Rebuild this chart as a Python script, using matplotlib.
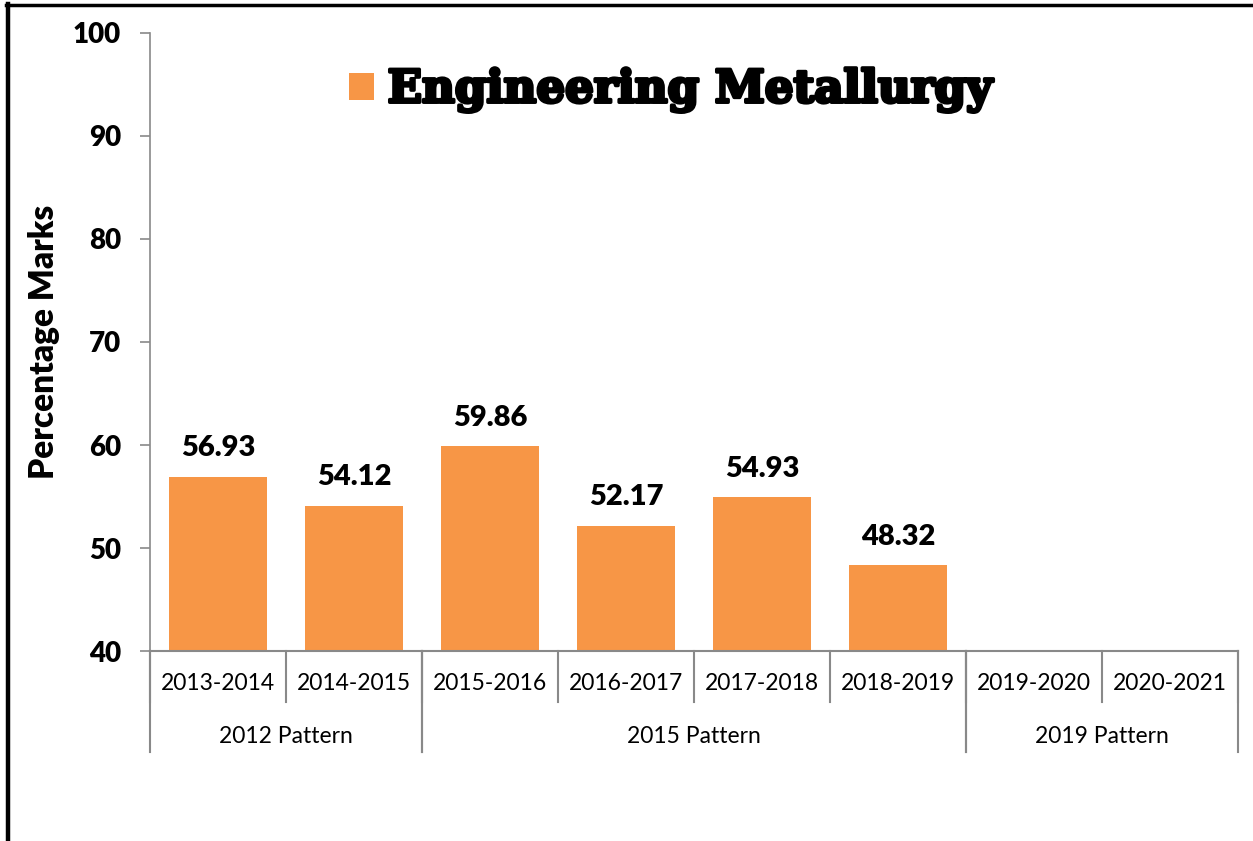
import matplotlib
matplotlib.use("Agg")
import matplotlib.pyplot as plt
import matplotlib.patheffects as pe
from matplotlib.lines import Line2D
import numpy as np

# Dữ liệu
years = ["2013-2014", "2014-2015", "2015-2016", "2016-2017",
         "2017-2018", "2018-2019", "2019-2020", "2020-2021"]
marks = [56.93, 54.12, 59.86, 52.17, 54.93, 48.32, np.nan, np.nan]
groups = ["2012 Pattern", "2015 Pattern", "2019 Pattern"]
group_sizes = [2, 4, 2]
series_name = "Engineering Metallurgy"

bar_color = "#F79646"
axis_color = "#898989"
font = "Lato"

fig = plt.figure(figsize=(12.53, 8.41), dpi=100)
ax = fig.add_axes([0.1197, 0.2259, 0.8683, 0.7349])

x = np.arange(len(years))
bars = ax.bar(x, marks, width=0.72, color=bar_color, label=series_name, zorder=2)

# Nhãn giá trị trên cột
for xi, v in zip(x, marks):
    if np.isnan(v):
        continue
    ax.annotate(f"{v:.2f}", (xi, v), textcoords="offset points", xytext=(0, 11),
                ha="center", va="bottom", fontsize=21, fontweight="heavy",
                family=font)

ax.set_xlim(-0.5, len(years) - 0.5)
ax.set_ylim(40, 100)
ax.set_yticks(range(40, 101, 10))
ax.tick_params(axis="y", direction="out", length=7, width=1.2, color=axis_color,
               labelsize=20, pad=14)
for lab in ax.get_yticklabels():
    lab.set_fontweight("heavy")
    lab.set_family(font)
ax.set_xticks([])

for s in ["top", "right"]:
    ax.spines[s].set_visible(False)
ax.spines["left"].set_color(axis_color)
ax.spines["left"].set_linewidth(1.2)
ax.spines["bottom"].set_color(axis_color)
ax.spines["bottom"].set_linewidth(1.5)

ax.set_ylabel("Percentage Marks", fontsize=24, fontweight="heavy", family=font,
              labelpad=9)

# Trục x phân cấp: năm học và khung chương trình
tr = ax.get_xaxis_transform()
row1 = -0.0825
row2 = -0.164
for xi, name in zip(x, years):
    ax.text(xi, -0.053, name, transform=tr, ha="center", va="center",
            fontsize=16.5, family=font)
for b in np.arange(len(years) + 1) - 0.5:
    ax.add_line(Line2D([b, b], [0, row1], transform=tr, color=axis_color,
                       lw=1.5, clip_on=False))
start = 0
for name, n in zip(groups, group_sizes):
    left = start - 0.5
    right = start + n - 0.5
    ax.text((left + right) / 2, -0.1375, name, transform=tr, ha="center",
            va="center", fontsize=16.5, family=font)
    for b in (left, right):
        ax.add_line(Line2D([b, b], [0, row2], transform=tr, color=axis_color,
                           lw=1.5, clip_on=False))
    start += n

# Chú thích
leg = ax.legend(handles=[bars], labels=[series_name], loc="center",
                bbox_to_anchor=(0.535, 0.893), bbox_transform=fig.transFigure,
                frameon=False, handlelength=0.55, handleheight=0.55,
                handletextpad=0.3, borderpad=0,
                prop={"family": "DejaVu Serif", "weight": "heavy", "size": 32.5})
for t in leg.get_texts():
    t.set_path_effects([pe.withStroke(linewidth=2.5, foreground="black")])

# Viền khung hình
fig.add_artist(Line2D([0.0048, 1.0], [0.9935, 0.9935], transform=fig.transFigure,
                      color="black", lw=2.5))
fig.add_artist(Line2D([0.0066, 0.0066], [0.0, 0.995], transform=fig.transFigure,
                      color="black", lw=3.2))

fig.savefig("out.png", dpi=100)
